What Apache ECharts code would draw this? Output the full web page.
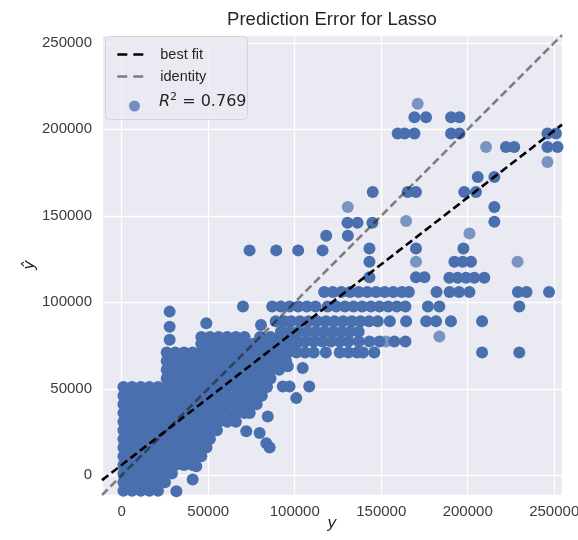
<!DOCTYPE html>
<html>
<head>
<meta charset="utf-8">
<script src="https://cdn.jsdelivr.net/npm/echarts@6/dist/echarts.min.js"></script>
<style>
  html, body { margin: 0; padding: 0; background: #ffffff; }
  #chart { width: 578px; height: 540px; }
</style>
</head>
<body>
<div id="chart"></div>
<script>
// Shared limits for both axes (actual y vs predicted y-hat)
const axisMin = -11400;
const axisMax = 254500;
const tickStep = 50000;

// Fitted lines: endpoints at the axis limits
const bestFitLine = [[-11400, -2810], [254500, 202700]];
const identityLine = [[-11400, -11400], [254500, 254500]];
const r2Value = '0.769';

// Dense cloud of observations, grouped by predicted value: [y-hat, [y, y, ...]]
const denseRows = [
  [-9000, [1000, 6000, 11000, 16000, 21000]],
  [-4000, [1000, 6000, 11000, 16000, 21000, 25000]],
  [1000, [1000, 6000, 11000, 16000, 21000, 26000, 29000]],
  [6000, [1000, 6000, 11000, 16000, 21000, 26000, 31000, 36000, 41000]],
  [11000, [1000, 6000, 11000, 16000, 21000, 26000, 31000, 36000, 41000, 46000]],
  [16000, [1000, 6000, 11000, 16000, 21000, 26000, 31000, 36000, 41000, 46000, 49000]],
  [21000, [1000, 6000, 11000, 16000, 21000, 26000, 31000, 36000, 41000, 46000, 51000]],
  [26000, [1000, 6000, 11000, 16000, 21000, 26000, 31000, 36000, 41000, 46000, 51000, 55000]],
  [31000, [1000, 6000, 11000, 16000, 21000, 26000, 31000, 36000, 41000, 46000, 51000, 56000, 61000, 66000]],
  [36000, [1000, 6000, 11000, 16000, 21000, 26000, 31000, 36000, 41000, 46000, 51000, 56000, 61000, 66000, 71000, 74000]],
  [41000, [1000, 6000, 11000, 16000, 21000, 26000, 31000, 36000, 41000, 46000, 51000, 56000, 61000, 66000, 71000, 76000, 78000]],
  [46000, [1000, 6000, 11000, 16000, 21000, 26000, 31000, 36000, 41000, 46000, 51000, 56000, 61000, 66000, 71000, 76000, 81000]],
  [51000, [1000, 6000, 11000, 16000, 21000, 26000, 31000, 36000, 41000, 46000, 51000, 56000, 61000, 66000, 71000, 76000, 81000, 84000]],
  [56000, [26000, 31000, 36000, 41000, 46000, 51000, 56000, 61000, 66000, 71000, 76000, 81000, 86000]],
  [61000, [26000, 31000, 36000, 41000, 46000, 51000, 56000, 61000, 66000, 71000, 76000, 81000, 86000, 91000]],
  [66000, [26000, 31000, 36000, 41000, 46000, 51000, 56000, 61000, 66000, 71000, 76000, 81000, 86000, 91000, 95000]],
  [71000, [26000, 31000, 36000, 41000, 46000, 51000, 56000, 61000, 66000, 71000, 76000, 81000, 86000, 91000, 96000, 101000]],
  [76000, [46000, 51000, 56000, 61000, 66000, 71000, 76000, 81000, 86000, 91000, 96000, 101000]],
  [80000, [46000, 51000, 56000, 61000, 66000, 71000, 80000, 86000, 92000, 97000]]
];

// Horizontal bands of larger predictions: [y-hat, [y, y, ...]]
const bandRows = [
  [106000, [117000, 122000, 127000, 132000, 137000, 142000, 147000, 152000, 157000, 162000, 166000, 182000, 189500, 195000, 201000, 229000, 234000, 247000]],
  [97500, [87000, 92000, 97000, 102000, 107000, 112000, 119000, 124000, 129000, 134000, 139000, 144000, 149000, 154000, 159000, 164000, 177000, 183600, 229800]],
  [89000, [89000, 94000, 98000, 103000, 108000, 113000, 118000, 123000, 128000, 133000, 138000, 143000, 148000, 155000, 164400, 176000, 181700, 190300, 208300]],
  [83000, [92000, 97000, 102000, 107000, 112000, 117000, 122000, 127000, 132000, 137000]],
  [77300, [91000, 96000, 101000, 106000, 111000, 116000, 121000, 126000, 131000, 137000, 143200, 149000, 157600, 164000]],
  [71000, [106000, 111000, 118000, 126000, 131000, 136000, 139500, 146000, 208300, 229800]]
];

// Isolated observations [y, y-hat]
const strayPoints = [
  [31600, -9200], [41000, -2500], [43100, 5200],
  [72000, 25400], [79700, 24500], [83600, 18500], [85500, 16000], [84400, 34000],
  [93100, 51300], [97000, 51300], [108400, 51300], [100900, 44600], [96000, 63000], [104600, 62000],
  [27700, 94600], [27700, 85900], [27700, 78300], [48900, 87900], [70100, 97500], [80500, 86900],
  [73900, 130000], [89300, 130000], [102000, 130000], [116100, 130000],
  [118200, 138500], [130700, 138500],
  [130500, 146000], [136300, 146000], [144900, 146000],
  [143200, 131100], [143200, 123400], [143200, 114500],
  [170100, 131100], [170100, 114500], [175000, 114500],
  [197500, 131100],
  [192300, 123400], [197100, 123400], [201900, 123400],
  [189400, 114200], [194200, 114200], [199000, 114200], [203800, 114200], [209600, 114200],
  [215400, 155100], [215400, 146500],
  [145100, 163800], [165300, 163800], [170100, 163800], [198000, 163800], [204800, 163800],
  [205800, 172400], [215400, 172400],
  [159500, 197500], [163500, 197500], [169200, 197500],
  [169200, 207000], [175900, 207000],
  [190400, 207000], [195200, 207000], [190400, 197500], [195200, 197500],
  [222100, 189700], [226900, 189700],
  [246100, 197500], [251000, 197500], [246100, 189700], [251900, 189700]
];

// Single (non-overlapping) observations, drawn lighter
const faintPoints = [
  [171100, 214800], [130700, 155100], [164400, 147000], [201000, 139800], [170100, 123400],
  [228800, 123400], [210600, 189700], [246100, 181100], [183600, 80200], [152800, 77300]
];

const scatterData = [];
denseRows.concat(bandRows).forEach(([yhat, ys]) => {
  ys.forEach(y => scatterData.push([y, yhat]));
});
strayPoints.forEach(p => scatterData.push(p));
faintPoints.forEach(p => scatterData.push({ value: p, itemStyle: { opacity: 0.7 } }));

const tickColor = '#3b3b3b';
const textColor = '#262626';
const sansFont = 'Liberation Sans, Arial, sans-serif';
const mathFont = 'DejaVu Sans, sans-serif';

const tickFormatter = v => (Math.abs(v % tickStep) < 1e-6 ? String(v) : '');

const chart = echarts.init(document.getElementById('chart'), null, { renderer: 'canvas' });

chart.setOption({
  animation: false,
  backgroundColor: '#ffffff',
  title: {
    text: 'Prediction Error for Lasso',
    left: 327,
    top: 5,
    textAlign: 'center',
    textStyle: { fontFamily: sansFont, fontSize: 18.5, fontWeight: 'normal', color: textColor }
  },
  grid: {
    left: 102, top: 35, width: 460, height: 460,
    outerBoundsMode: 'none', containLabel: false,
    show: true, backgroundColor: '#EAEAF2', borderWidth: 0
  },
  xAxis: {
    type: 'value', min: axisMin, max: axisMax,
    name: 'y', nameLocation: 'middle', nameGap: 21, nameMoveOverlap: false,
    nameTextStyle: { fontFamily: mathFont, fontStyle: 'italic', fontSize: 16, color: textColor },
    axisLine: { show: false }, axisTick: { show: false },
    splitLine: { show: true, lineStyle: { color: '#ffffff', width: 1.3 } },
    axisLabel: { fontFamily: sansFont, fontSize: 15, color: tickColor, margin: 9, formatter: tickFormatter }
  },
  yAxis: {
    type: 'value', min: axisMin, max: axisMax,
    name: 'ŷ', nameLocation: 'middle', nameGap: 64, nameRotate: 90, nameMoveOverlap: false,
    nameTextStyle: { fontFamily: mathFont, fontStyle: 'italic', fontSize: 16, color: textColor },
    axisLine: { show: false }, axisTick: { show: false },
    splitLine: { show: true, lineStyle: { color: '#ffffff', width: 1.3 } },
    axisLabel: { fontFamily: sansFont, fontSize: 15, color: tickColor, margin: 10, formatter: tickFormatter }
  },
  graphic: [{
    type: 'rect', left: 105, top: 36, z: 3,
    shape: { width: 142, height: 83, r: 4 },
    style: { fill: 'rgba(234,234,242,0.8)', stroke: '#d4d4da', lineWidth: 1 }
  }],
  legend: [
    {
      data: ['best fit', 'identity'],
      orient: 'vertical', left: 116, top: 47, z: 4, padding: 0,
      itemWidth: 28, itemHeight: 14, itemGap: 7,
      selectedMode: false,
      itemStyle: { opacity: 0 },
      lineStyle: { width: 2.6, type: [10, 6] },
      textStyle: { fontFamily: sansFont, fontSize: 14.5, color: textColor, lineHeight: 14, padding: [0, 0, 0, 10] }
    },
    {
      data: ['R2'],
      orient: 'vertical', left: 129, top: 92, z: 4, padding: 0,
      icon: 'circle', itemWidth: 11, itemHeight: 11,
      selectedMode: false,
      itemStyle: { opacity: 0.75 },
      formatter: () => '{i|R}{s|2}{n| = ' + r2Value + '}',
      textStyle: {
        padding: [0, 0, 8, 14],
        rich: {
          i: { fontFamily: mathFont, fontStyle: 'italic', fontSize: 16, color: textColor, lineHeight: 20 },
          s: { fontFamily: mathFont, fontSize: 11, color: textColor, verticalAlign: 'top', lineHeight: 14 },
          n: { fontFamily: mathFont, fontSize: 16, color: textColor, lineHeight: 20 }
        }
      }
    }
  ],
  series: [
    {
      name: 'R2', type: 'scatter', data: scatterData,
      symbol: 'circle', symbolSize: 12, z: 2,
      itemStyle: { color: '#4A6FAE', opacity: 1 },
      silent: true
    },
    {
      name: 'identity', type: 'line', data: identityLine,
      symbol: 'none', z: 3, silent: true,
      itemStyle: { color: 'rgba(17,17,17,0.5)' },
      lineStyle: { color: 'rgba(17,17,17,0.5)', width: 2.6, type: [8, 4] }
    },
    {
      name: 'best fit', type: 'line', data: bestFitLine,
      symbol: 'none', z: 4, silent: true,
      itemStyle: { color: '#000000' },
      lineStyle: { color: '#000000', width: 2.6, type: [8, 4] }
    }
  ]
});
</script>
</body>
</html>
